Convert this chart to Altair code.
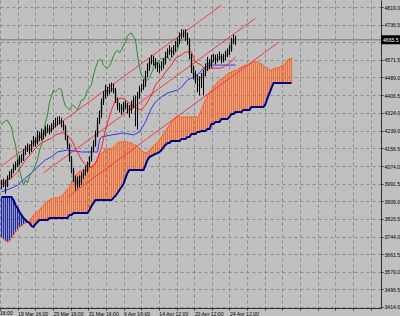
import altair as alt
import pandas as pd

# ---------------- data ----------------
closes = [3985, 4000, 3981, 4018, 4032, 4046, 4065, 4079, 4089, 4112,
          4103, 4140, 4149, 4159, 4149, 4173, 4196, 4182, 4220, 4206,
          4234, 4220, 4243, 4252, 4238, 4257, 4266, 4281, 4285, 4290,
          4271, 4257, 4206, 4173, 4112, 4056, 4018, 3985, 4009, 3995,
          4028, 4042, 4056, 4079, 4103, 4149, 4173, 4220, 4281, 4313,
          4374, 4402, 4430, 4421, 4430, 4440, 4430, 4384, 4355, 4346,
          4337, 4355, 4360, 4346, 4337, 4360, 4384, 4384, 4402, 4430,
          4440, 4454, 4501, 4533, 4562, 4571, 4571, 4547, 4538, 4533,
          4543, 4562, 4590, 4608, 4618, 4604, 4618, 4641, 4655, 4683,
          4693, 4697, 4679, 4665, 4594, 4533, 4501, 4487, 4477, 4477,
          4487, 4510, 4533, 4562, 4547, 4571, 4580, 4571, 4580, 4590,
          4571, 4580, 4594, 4608, 4618, 4655, 4665, 4665.5]
highs = [4010, 4015, 4008, 4030, 4050, 4060, 4085, 4095, 4105, 4125,
         4130, 4155, 4170, 4180, 4175, 4195, 4215, 4210, 4240, 4235,
         4250, 4245, 4262, 4270, 4265, 4275, 4290, 4300, 4305, 4308,
         4300, 4285, 4265, 4215, 4180, 4120, 4065, 4030, 4025, 4030,
         4045, 4060, 4075, 4095, 4120, 4165, 4195, 4240, 4300, 4335,
         4390, 4425, 4455, 4445, 4460, 4465, 4460, 4440, 4395, 4370,
         4365, 4375, 4380, 4370, 4360, 4380, 4400, 4405, 4420, 4450,
         4460, 4480, 4520, 4555, 4580, 4595, 4590, 4580, 4560, 4555,
         4565, 4580, 4610, 4625, 4640, 4630, 4640, 4660, 4675, 4700,
         4715, 4712, 4715, 4700, 4672, 4600, 4545, 4520, 4500, 4495,
         4510, 4525, 4555, 4585, 4575, 4595, 4600, 4595, 4600, 4610,
         4600, 4600, 4615, 4625, 4640, 4675, 4690, 4685]
lows = [3965, 3975, 3945, 3975, 4010, 4020, 4040, 4055, 4070, 4080,
        4090, 4098, 4125, 4140, 4130, 4140, 4165, 4165, 4175, 4190,
        4195, 4200, 4212, 4230, 4222, 4230, 4245, 4255, 4265, 4270,
        4255, 4240, 4195, 4155, 4095, 4040, 4000, 3960, 3970, 3975,
        3985, 4015, 4030, 4045, 4070, 4095, 4140, 4165, 4210, 4270,
        4300, 4360, 4390, 4400, 4410, 4420, 4415, 4370, 4335, 4325,
        4315, 4325, 4340, 4320, 4300, 4320, 4345, 4260, 4245, 4390,
        4420, 4430, 4445, 4490, 4520, 4550, 4545, 4530, 4515, 4510,
        4520, 4530, 4550, 4580, 4595, 4585, 4595, 4610, 4630, 4645,
        4670, 4675, 4660, 4640, 4575, 4510, 4480, 4460, 4420, 4405,
        4440, 4405, 4495, 4520, 4530, 4535, 4560, 4550, 4560, 4570,
        4555, 4560, 4570, 4585, 4595, 4610, 4645, 4640]
first_open = 3995

span_a = [3742, 3733, 3723, 3719, 3723, 3737, 3751, 3765, 3779, 3789,
          3793, 3803, 3808, 3812, 3817, 3831, 3845, 3854, 3859, 3868,
          3882, 3892, 3901, 3911, 3915, 3920, 3925, 3925, 3925, 3929,
          3934, 3943, 3953, 3967, 3976, 3995, 4014, 4028, 4042, 4051,
          4051, 4051, 4051, 4060, 4070, 4074, 4079, 4089, 4103, 4121,
          4135, 4140, 4154, 4154, 4154, 4154, 4163, 4173, 4182, 4187,
          4187, 4187, 4187, 4187, 4182, 4182, 4173, 4173, 4163, 4154,
          4145, 4140, 4135, 4135, 4149, 4159, 4168, 4177, 4187, 4196,
          4210, 4224, 4238, 4252, 4266, 4281, 4290, 4304, 4304, 4304,
          4304, 4304, 4304, 4304, 4304, 4304, 4304, 4304, 4304, 4313,
          4340, 4360, 4384, 4402, 4416, 4430, 4444, 4454, 4468, 4477,
          4482, 4487, 4496, 4505, 4510, 4515, 4519, 4524, 4524, 4533,
          4538, 4543, 4547, 4547, 4552, 4557, 4562, 4562, 4562, 4557,
          4552, 4543, 4538, 4533, 4524, 4524, 4529, 4533, 4533, 4538,
          4543, 4547, 4557, 4571, 4576, 4580]
span_b = [3929, 3929, 3929, 3929, 3929, 3929, 3915, 3892, 3878, 3859,
          3845, 3831, 3822, 3812, 3808, 3793, 3789, 3803, 3812, 3822,
          3822, 3822, 3822, 3822, 3831, 3831, 3831, 3831, 3831, 3831,
          3831, 3831, 3831, 3831, 3845, 3845, 3854, 3854, 3854, 3854,
          3854, 3854, 3854, 3854, 3868, 3887, 3901, 3915, 3915, 3915,
          3915, 3915, 3915, 3915, 3915, 3915, 3925, 3934, 3948, 3962,
          3976, 3990, 4018, 4042, 4056, 4056, 4056, 4056, 4056, 4056,
          4056, 4056, 4079, 4103, 4117, 4121, 4126, 4131, 4135, 4140,
          4149, 4163, 4173, 4182, 4182, 4192, 4192, 4192, 4192, 4192,
          4201, 4201, 4201, 4210, 4210, 4224, 4224, 4224, 4234, 4234,
          4238, 4238, 4238, 4248, 4248, 4271, 4271, 4281, 4281, 4281,
          4295, 4295, 4295, 4295, 4304, 4318, 4318, 4327, 4327, 4327,
          4327, 4337, 4337, 4337, 4337, 4351, 4351, 4351, 4351, 4351,
          4351, 4351, 4365, 4393, 4416, 4440, 4463, 4463, 4463, 4463,
          4463, 4463, 4463, 4463, 4463, 4463]

tenkan_i = [0, 5, 8, 10, 12, 15, 17, 20, 25, 27, 30, 32, 35, 38, 40, 42, 45, 47, 50, 52,
            55, 57, 60, 62, 65, 67, 70, 72, 75, 77, 80, 82, 85, 87, 90, 92, 95, 97, 100, 102,
            105, 110, 114, 117]
tenkan_v = [4000, 4018, 4046, 4074, 4103, 4135, 4159, 4182, 4205, 4220, 4229, 4229, 4196, 4140,
            4103, 4079, 4065, 4088, 4159, 4243, 4337, 4383, 4393, 4383, 4360, 4346, 4337, 4360,
            4407, 4454, 4486, 4515, 4547, 4580, 4594, 4608, 4608, 4561, 4547, 4524, 4533, 4533,
            4556, 4584]
kijun_i = [0, 5, 8, 12, 15, 18, 22, 25, 28, 33, 40, 48, 49, 50, 55, 61, 66, 69, 72, 75,
           77, 80, 83, 88, 90, 93, 96, 99, 101, 105, 117]
kijun_v = [3953, 3971, 3985, 4018, 4042, 4070, 4103, 4117, 4140, 4149, 4140, 4140, 4196, 4210,
           4220, 4229, 4220, 4234, 4281, 4346, 4374, 4398, 4416, 4430, 4444, 4477, 4491, 4510,
           4533, 4547, 4547]

chan_name = ["upper", "upper", "middle", "middle", "lower", "lower"]
chan_i = [0, 110, 21, 127, 33, 138]
chan_v = [4075, 4828, 4042, 4767, 3929, 4650]

price_value = [4665.5]
price_label = ["4665.5"]

y_ticks = [3414.0, 3496.5, 3579.0, 3661.5, 3744.0, 3826.5, 3909.0, 3991.5, 4074.0,
           4156.5, 4239.0, 4324.0, 4406.5, 4489.0, 4571.5, 4654.0, 4736.5, 4819.0]
y_hidden_label = 4654.0
x_labels = ["", "19 Mar 16:00", "", "25 Mar 16:00", "", "31 Mar 16:00", "", "6 Apr 16:00",
            "", "14 Apr 12:00", "", "20 Apr 12:00", "", "24 Apr 12:00", "", "", "", "", "",
            "", "", ""]
grid_step = 8.825
x_ticks = [round(grid_step * k - 0.75, 3) for k in range(len(x_labels))]

# ---------------- tables ----------------
opens = [first_open] + closes[:-1]
candles = pd.DataFrame({"i": list(range(len(closes))), "o": opens, "h": highs, "l": lows, "c": closes})
chikou = pd.DataFrame({"i": list(range(len(closes) - 26)), "v": closes[26:]})
cloud = pd.DataFrame({"i": list(range(len(span_a))), "a": span_a, "b": span_b})
cloud_up = cloud[cloud["a"] >= cloud["b"]]
cloud_down = cloud[cloud["a"] < cloud["b"]]
tenkan = pd.DataFrame({"i": tenkan_i, "v": tenkan_v})
kijun = pd.DataFrame({"i": kijun_i, "v": kijun_v})
channel = pd.DataFrame({"line": chan_name, "i": chan_i, "v": chan_v})
price = pd.DataFrame({"p": price_value, "label": price_label})
partial = pd.DataFrame({"t": ["16:00"]})

FONT = "Liberation Sans"
FS = 5.1
xs = alt.Scale(domain=[-0.75, 189.75], nice=False, zero=False)
ys = alt.Scale(domain=[3409.3, 4851.8], nice=False, zero=False)

label_expr = "[" + ",".join("'%s'" % s for s in x_labels) + "][round((datum.value + 0.75) / %s)]" % grid_step
y_label_expr = "datum.value == %s ? '' : format(datum.value, '.1f')" % y_hidden_label

xa = alt.Axis(values=x_ticks, labelExpr=label_expr, labelAlign="left", labelBaseline="top",
              labelFontSize=FS, labelFont=FONT, labelColor="black", labelPadding=1,
              labelOverlap=False, labelFlush=False, tickSize=2, tickColor="#303030",
              domainColor="#303030", grid=True, gridColor="#8a8a8a", gridDash=[3, 3],
              gridWidth=1, title=None)
ya = alt.Axis(orient="right", values=y_ticks, labelExpr=y_label_expr, labelFontSize=FS,
              labelFont=FONT, labelColor="black", labelPadding=1, labelOverlap=False,
              labelFlush=False, tickSize=2, tickColor="#303030", domainColor="#303030",
              grid=True, gridColor="#8a8a8a", gridDash=[3, 3], gridWidth=1, title=None)

X = alt.X("i:Q", scale=xs, axis=xa)

hatch_up = alt.Chart(cloud_up).mark_rule(color="#FF6A2A", strokeWidth=1.25,
                                         clip=True).encode(
    x=X, y=alt.Y("a:Q", scale=ys, axis=ya), y2="b:Q")
hatch_down = alt.Chart(cloud_down).mark_rule(color="#1A2AA8", strokeWidth=1.25,
                                             clip=True).encode(
    x=X, y=alt.Y("a:Q", scale=ys, axis=ya), y2="b:Q")

price_line = alt.Chart(price).mark_rule(color="#8a8a8a", strokeWidth=1.5).encode(
    y=alt.Y("p:Q", scale=ys, axis=ya), x=alt.value(0), x2=alt.value(381))

a_line = alt.Chart(cloud).mark_line(color="#FF5A28", strokeWidth=1, clip=True).encode(
    x=X, y=alt.Y("a:Q", scale=ys, axis=ya))
b_line = alt.Chart(cloud).mark_line(color="#000080", strokeWidth=2, clip=True).encode(
    x=X, y=alt.Y("b:Q", scale=ys, axis=ya))

chan = alt.Chart(channel).mark_line(color="#F03C3C", strokeWidth=1, clip=True).encode(
    x=X, y=alt.Y("v:Q", scale=ys, axis=ya), detail="line:N")

kij = alt.Chart(kijun).mark_line(color="#3232F5", strokeWidth=1, clip=True).encode(
    x=X, y=alt.Y("v:Q", scale=ys, axis=ya))
ten = alt.Chart(tenkan).mark_line(color="#FF2020", strokeWidth=1, clip=True).encode(
    x=X, y=alt.Y("v:Q", scale=ys, axis=ya))
chi = alt.Chart(chikou).mark_line(color="#2E8B2E", strokeWidth=1, clip=True).encode(
    x=X, y=alt.Y("v:Q", scale=ys, axis=ya))

wick = alt.Chart(candles).mark_rule(color="black", strokeWidth=1, clip=True).encode(
    x=X, y=alt.Y("l:Q", scale=ys, axis=ya), y2="h:Q")
body = alt.Chart(candles).mark_rule(color="black", strokeWidth=1.3, clip=True).encode(
    x=X, y=alt.Y("o:Q", scale=ys, axis=ya), y2="c:Q")

box = alt.Chart(price).mark_point(
    shape="M-1,-0.47L1,-0.47L1,0.47L-1,0.47Z", size=361, filled=True, color="black",
    opacity=1, strokeWidth=0).encode(y=alt.Y("p:Q", scale=ys, axis=ya), x=alt.value(390.5))
box_text = alt.Chart(price).mark_text(align="left", baseline="middle", color="white",
                                      fontSize=FS, font=FONT).encode(
    y=alt.Y("p:Q", scale=ys, axis=ya), x=alt.value(383), text="label:N")

partial_text = alt.Chart(partial).mark_text(align="left", baseline="top", color="black",
                                            fontSize=FS, font=FONT).encode(
    x=alt.value(0), y=alt.value(311), text="t:N")

chart = alt.layer(hatch_up, hatch_down, price_line, a_line, b_line, chan, kij, ten, chi,
                  wick, body, box, box_text, partial_text).properties(
    width=381, height=308,
    autosize=alt.AutoSizeParams(type="none"),
    padding={"left": 0, "top": 0, "right": 19, "bottom": 8},
).configure(background="#C0C0C0").configure_view(stroke="transparent", fill="#C0C0C0")

chart.save("out.html", embed_options={"renderer": "svg", "actions": False})
